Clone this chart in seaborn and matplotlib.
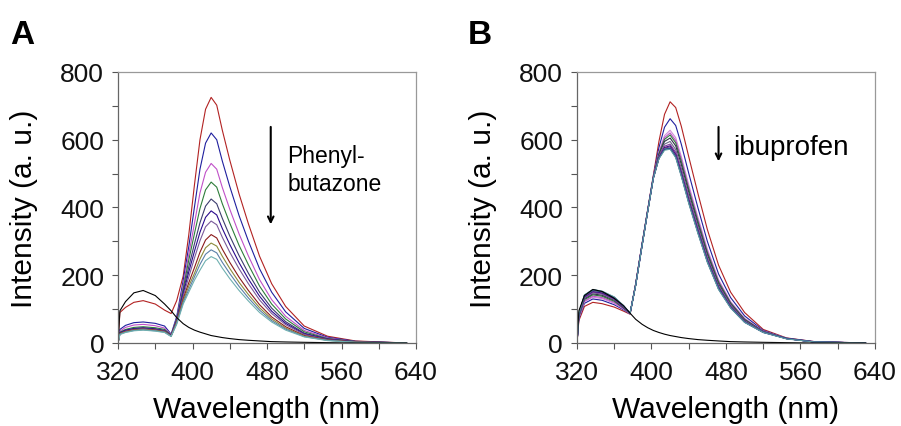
import matplotlib
matplotlib.use("Agg")
import matplotlib.pyplot as plt
import pandas as pd
import seaborn as sns

# wavelength grid (nm) shared by all spectra
wavelength = [320, 322, 328, 337, 347, 360, 370, 377, 383, 390, 396, 402, 408,
              414, 420, 426, 432, 440, 450, 460, 472, 485, 500, 520, 545, 575, 630]

# ---- panel A : phenylbutazone titration ----
a_free = [0, 95, 122, 148, 155, 140, 115, 95, 75, 57, 46, 38, 32, 27, 22, 19, 16, 13, 10, 8, 6, 4, 3, 2, 1, 0, 0]
a_725 = [0, 90, 105, 120, 125, 115, 97, 87, 125, 198, 320, 465, 600, 690, 725, 702, 628, 540, 440, 352, 256, 175, 108, 50, 20, 6, 0]
a_620 = [0, 40, 52, 60, 62, 58, 50, 26, 78, 185, 285, 400, 513, 590, 620, 600, 537, 462, 376, 301, 219, 150, 92, 43, 17, 5, 0]
a_530 = [0, 35, 46, 53, 55, 51, 44, 24, 72, 170, 262, 352, 443, 504, 530, 513, 459, 395, 322, 257, 187, 128, 79, 37, 15, 4, 0]
a_475 = [0, 32, 40, 46, 48, 45, 40, 23, 70, 160, 245, 322, 397, 452, 475, 460, 411, 354, 288, 231, 168, 115, 71, 33, 13, 4, 0]
a_425 = [0, 30, 38, 43, 45, 42, 37, 22, 68, 152, 225, 292, 355, 404, 425, 411, 368, 316, 258, 206, 150, 103, 63, 29, 12, 4, 0]
a_390 = [0, 30, 37, 42, 44, 41, 36, 22, 66, 145, 210, 270, 327, 371, 390, 378, 338, 291, 237, 189, 138, 94, 58, 27, 11, 3, 0]
a_360 = [0, 28, 35, 40, 42, 39, 35, 21, 64, 138, 195, 250, 302, 343, 360, 349, 312, 268, 219, 175, 127, 87, 54, 25, 10, 3, 0]
a_320 = [0, 28, 34, 39, 41, 38, 34, 21, 62, 130, 178, 222, 268, 304, 320, 310, 277, 238, 194, 155, 113, 77, 48, 22, 9, 3, 0]
a_295 = [0, 27, 33, 38, 40, 37, 33, 20, 60, 125, 168, 205, 248, 281, 295, 286, 256, 220, 179, 143, 104, 71, 44, 20, 8, 2, 0]
a_275 = [0, 26, 32, 37, 39, 36, 32, 20, 58, 120, 158, 195, 232, 262, 275, 266, 238, 205, 167, 133, 97, 66, 41, 19, 8, 2, 0]
a_255 = [0, 25, 31, 36, 38, 35, 31, 19, 55, 115, 150, 185, 215, 243, 255, 247, 221, 190, 155, 124, 90, 62, 38, 18, 7, 2, 0]

a_series = [a_725, a_620, a_530, a_475, a_425, a_390, a_360, a_320, a_295, a_275, a_255, a_free]
a_colors = ["#b22222", "#1f1f9e", "#c050c8", "#2e7d3a", "#3c3c6e", "#2a0a8c",
            "#7a5a9a", "#8b1a1a", "#8c8a3c", "#5a7fa8", "#6fb0b0", "#000000"]

# ---- panel B : ibuprofen titration ----
b_free = [0, 95, 140, 158, 152, 132, 110, 88, 70, 55, 45, 37, 31, 26, 22, 19, 16, 13, 10, 8, 6, 4, 3, 2, 1, 0, 0]
b_712 = [0, 66, 108, 120, 116, 106, 94, 85, 175, 295, 395, 495, 595, 675, 712, 695, 640, 550, 440, 335, 230, 150, 90, 40, 15, 4, 0]
b_662 = [0, 72, 117, 130, 126, 113, 98, 86, 174, 294, 394, 492, 577, 637, 662, 642, 587, 501, 398, 300, 204, 134, 80, 37, 14, 4, 0]
b_628 = [0, 74, 122, 135, 131, 117, 100, 86, 173, 293, 393, 490, 564, 612, 628, 606, 551, 467, 370, 277, 187, 122, 73, 35, 14, 3, 0]
b_620 = [0, 76, 124, 138, 134, 120, 101, 87, 173, 293, 392, 490, 561, 606, 620, 598, 543, 459, 363, 271, 183, 120, 71, 35, 14, 3, 0]
b_614 = [0, 78, 128, 142, 138, 123, 103, 87, 172, 292, 392, 489, 559, 601, 614, 591, 536, 453, 358, 267, 180, 118, 70, 34, 14, 3, 0]
b_605 = [0, 80, 131, 145, 141, 126, 104, 87, 172, 292, 391, 489, 556, 595, 605, 582, 527, 445, 350, 261, 175, 115, 68, 34, 13, 3, 0]
b_595 = [0, 81, 133, 148, 144, 128, 105, 88, 172, 291, 391, 488, 552, 587, 595, 571, 516, 435, 342, 254, 170, 112, 66, 33, 13, 3, 0]
b_587 = [0, 82, 135, 150, 146, 130, 106, 88, 171, 291, 390, 488, 549, 581, 587, 563, 508, 427, 335, 248, 166, 109, 64, 33, 13, 3, 0]
b_582 = [0, 84, 137, 152, 148, 131, 107, 88, 171, 290, 390, 487, 547, 577, 582, 557, 502, 422, 331, 245, 164, 107, 63, 32, 13, 3, 0]
b_579 = [0, 85, 139, 154, 150, 133, 108, 88, 171, 290, 390, 487, 546, 575, 579, 554, 499, 419, 328, 243, 162, 106, 63, 32, 13, 3, 0]
b_576 = [0, 85, 140, 155, 151, 134, 109, 88, 170, 290, 389, 487, 545, 573, 576, 551, 496, 416, 326, 241, 161, 105, 62, 32, 13, 3, 0]
b_574 = [0, 86, 141, 157, 152, 135, 110, 88, 170, 289, 389, 486, 545, 571, 574, 549, 494, 414, 324, 239, 159, 104, 61, 31, 13, 3, 0]
b_572 = [0, 87, 142, 158, 153, 136, 110, 88, 170, 289, 389, 486, 544, 569, 572, 547, 492, 412, 322, 238, 158, 103, 61, 31, 12, 3, 0]

b_series = [b_712, b_662, b_628, b_620, b_614, b_605, b_595, b_587, b_582,
            b_579, b_576, b_574, b_572, b_free]
b_colors = ["#b22222", "#1f1f9e", "#d08ad8", "#c050c8", "#2e7d3a", "#303048",
            "#6a6a8a", "#8a3a9a", "#2a0a8c", "#7a1a7a", "#3a9090", "#20208a",
            "#5f9ea0", "#000000"]


def long_form(series):
    frames = []
    for i, vals in enumerate(series):
        frames.append(pd.DataFrame({"wl": wavelength, "I": vals, "curve": i}))
    return pd.concat(frames, ignore_index=True)


sns.set_style("white")
plt.rcParams["font.family"] = ["Liberation Sans", "DejaVu Sans"]
plt.rcParams["text.color"] = "black"
plt.rcParams["axes.labelcolor"] = "black"

fig = plt.figure(figsize=(9.01, 4.27), dpi=100)
ax_a = fig.add_axes([0.131, 0.1944, 0.3307, 0.6347])
ax_b = fig.add_axes([0.6404, 0.1944, 0.3307, 0.6347])

for ax, series, colors in [(ax_a, a_series, a_colors), (ax_b, b_series, b_colors)]:
    df = long_form(series)
    sns.lineplot(data=df, x="wl", y="I", hue="curve", palette=colors,
                 estimator=None, sort=False, lw=0.8, legend=False, ax=ax)
    ax.set_xlim(320, 640)
    ax.set_ylim(0, 800)
    ax.set_xticks(range(320, 641, 80))
    ax.set_xticks(range(360, 641, 80), minor=True)
    ax.set_yticks(range(0, 801, 200))
    ax.set_yticks(range(100, 801, 200), minor=True)
    ax.tick_params(which="both", direction="out", length=4, width=0.8,
                   bottom=True, left=True, color="#555555",
                   labelsize=19, labelcolor="#111111")
    ax.tick_params(axis="x", which="both", pad=8)
    ax.tick_params(axis="y", which="both", pad=6)
    ax.tick_params(which="minor", labelsize=0)
    for side in ["top", "right"]:
        ax.spines[side].set_color("#999999")
    for side in ["left", "bottom"]:
        ax.spines[side].set_color("#666666")
    for s in ax.spines.values():
        s.set_linewidth(0.9)
    ax.set_xlabel("Wavelength (nm)", fontsize=21.5, labelpad=8)
    ax.set_ylabel("Intensity (a. u.)", fontsize=21.5, labelpad=16)

# annotations
ax_a.annotate("", xy=(484, 342), xytext=(484, 646),
              arrowprops=dict(arrowstyle="->", color="black", lw=1.5))
ax_a.text(502, 534, "Phenyl-", fontsize=16.5)
ax_a.text(502, 451, "butazone", fontsize=16.5)

ax_b.annotate("", xy=(472, 528), xytext=(472, 646),
              arrowprops=dict(arrowstyle="->", color="black", lw=1.5))
ax_b.text(488, 557, "ibuprofen", fontsize=20)

fig.text(0.011, 0.898, "A", fontsize=24, fontweight="bold")
fig.text(0.519, 0.898, "B", fontsize=24, fontweight="bold")

fig.savefig("out.png", dpi=100)
